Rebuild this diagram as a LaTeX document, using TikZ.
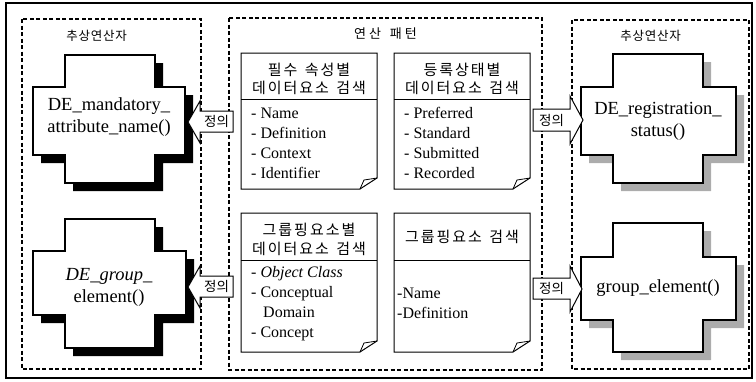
\documentclass[tikz,border=0pt]{standalone}
\usepackage{fontspec}
\setmainfont{Liberation Serif}
\newfontfamily\krfont{Noto Sans CJK KR}
% letter-spaced text: \lsp{kern}{text, with ~ for spaces}
\newcommand\lsp[2]{\def\lspamt{#1}\lspA#2\relax}
\def\lspA#1{\ifx#1\relax\else#1\kern\lspamt\expandafter\lspA\fi}
\tikzset{
  outerframe/.style={draw, line width=1.4pt},
  dbox/.style={draw, line width=1.1pt, dash pattern=on 4pt off 2.5pt},
  crossline/.style={draw, line width=1.1pt, fill=white},
  notebox/.style={draw, line width=1pt, fill=white},
  foldline/.style={draw, line width=0.8pt},
  ktitle/.style={font=\krfont\fontsize{12.5}{14}\selectfont, inner sep=0pt},
  khead/.style={font=\krfont\fontsize{15}{17}\selectfont, inner sep=0pt},
  listtxt/.style={font=\fontsize{16}{20}\selectfont, anchor=base west, inner sep=0pt},
  crosstxt/.style={font=\fontsize{18.5}{22}\selectfont, align=center, inner sep=0pt},
  defarrow/.style={draw, line width=1pt, fill=white},
  deftxt/.style={font=\krfont\fontsize{13.5}{15}\selectfont, inner sep=0pt},
}
% #1 shadow colour, #2 middle left, #3 arm left, #4 arm right, #5 middle right,
% #6 top, #7 middle top, #8 middle bottom, #9 bottom
\newcommand\crossfig[9]{%
  \fill[#1, shift={(8,8)}] (#3,#6) -- (#4,#6) -- (#4,#7) -- (#5,#7) -- (#5,#8) -- (#4,#8) -- (#4,#9) -- (#3,#9) -- (#3,#8) -- (#2,#8) -- (#2,#7) -- (#3,#7) -- cycle;
  \path[crossline] (#3,#6) -- (#4,#6) -- (#4,#7) -- (#5,#7) -- (#5,#8) -- (#4,#8) -- (#4,#9) -- (#3,#9) -- (#3,#8) -- (#2,#8) -- (#2,#7) -- (#3,#7) -- cycle;
}
% #1 left, #2 right, #3 top, #4 header line, #5 bottom
\newcommand\notefig[5]{%
  \path[notebox] (#1,#3) -- (#2,#3) -- (#2,#5-11) -- (#2-17,#5) -- (#1,#5) -- cycle;
  \draw[line width=1pt] (#1,#4) -- (#2,#4);
  \draw[foldline] (#2-17,#5) -- (#2-13,#5-9) -- (#2,#5-11);
}
\begin{document}
\begin{tikzpicture}[x=1pt, y=-1pt]
\useasboundingbox (0,0) rectangle (756,381);
\path[outerframe] (6,3) rectangle (752,378);

% dashed groups
\path[dbox] (22,19) rectangle (201,369);
\path[dbox] (229,18) rectangle (542,370);
\path[dbox] (572,20) rectangle (749,369);

\node[ktitle] (tl) at (97,36) {\lsp{0.8pt}{추상연산자}};
\node[font=\krfont\fontsize{13}{15}\selectfont, inner sep=0pt] (tm) at (387,34) {\lsp{3pt}{연산~패턴}};
\node[ktitle] (tr) at (651,36) {\lsp{0.8pt}{추상연산자}};

% crosses
\crossfig{black}{33}{65}{155}{185}{55}{87}{155}{183}
\crossfig{black}{33}{65}{155}{186}{219}{251}{315}{348}
\crossfig{gray!65}{581}{613}{703}{736}{54}{87}{155}{183}
\crossfig{gray!65}{581}{613}{703}{736}{223}{257}{320}{352}

\node[crosstxt] (c1) at (109,117) {DE\_mandatory\_\\attribute\_name()};
\node[crosstxt] (c2) at (109,287) {\textit{DE\_group\_}\\element()};
\node[crosstxt] (c3) at (658,121) {DE\_registration\_\\status()};
\node[crosstxt] (c4) at (658,288) {group\_element()};

% note boxes
\notefig{241}{377}{53}{99}{189}
\notefig{394}{530}{53}{99}{189}
\notefig{241}{377}{213}{260}{352}
\notefig{394}{530}{213}{260}{352}

\node[khead] (h1a) at (310,70) {\lsp{2pt}{필수~속성별}};
\node[khead] (h1b) at (310,88) {\lsp{2pt}{데이터요소~검색}};
\node[khead] (h2a) at (463,70) {\lsp{2pt}{등록상태별}};
\node[khead] (h2b) at (463,88) {\lsp{2pt}{데이터요소~검색}};
\node[khead] (h3a) at (310,230) {\lsp{2pt}{그룹핑요소별}};
\node[khead] (h3b) at (310,249) {\lsp{2pt}{데이터요소~검색}};
\node[khead] (h4a) at (463,237) {\lsp{2pt}{그룹핑요소~검색}};

\node[listtxt] (l1a) at (251,118) {- Name};
\node[listtxt] (l1b) at (251,138) {- Definition};
\node[listtxt] (l1c) at (251,158) {- Context};
\node[listtxt] (l1d) at (251,178) {- Identifier};

\node[listtxt] (l2a) at (404,118) {- Preferred};
\node[listtxt] (l2b) at (404,138) {- Standard};
\node[listtxt] (l2c) at (404,158) {- Submitted};
\node[listtxt] (l2d) at (404,178) {- Recorded};

\node[listtxt] (l3a) at (251,277) {- \textit{Object Class}};
\node[listtxt] (l3b) at (251,297) {- Conceptual};
\node[listtxt] (l3c) at (263,317) {Domain};
\node[listtxt] (l3d) at (251,337) {- Concept};

\node[listtxt] (l4a) at (397,298) {-Name};
\node[listtxt] (l4b) at (397,318) {-Definition};

% definition arrows
\path[defarrow] (188,122) -- (200,101) -- (200,111) -- (233,111) -- (233,132) -- (200,132) -- (200,143) -- cycle;
\node[deftxt] (d1) at (216.5,121.5) {정의};
\path[defarrow] (188,287) -- (200,266) -- (200,276) -- (233,276) -- (233,297) -- (200,297) -- (200,308) -- cycle;
\node[deftxt] (d2) at (216.5,286.5) {정의};
\path[defarrow] (533,109) -- (570,109) -- (570,96) -- (583,120) -- (570,144) -- (570,131) -- (533,131) -- cycle;
\node[deftxt] (d3) at (551.5,120) {정의};
\path[defarrow] (533,278) -- (570,278) -- (570,266) -- (582,289) -- (570,312) -- (570,299) -- (533,299) -- cycle;
\node[deftxt] (d4) at (551.5,288.5) {정의};
\end{tikzpicture}
\end{document}
